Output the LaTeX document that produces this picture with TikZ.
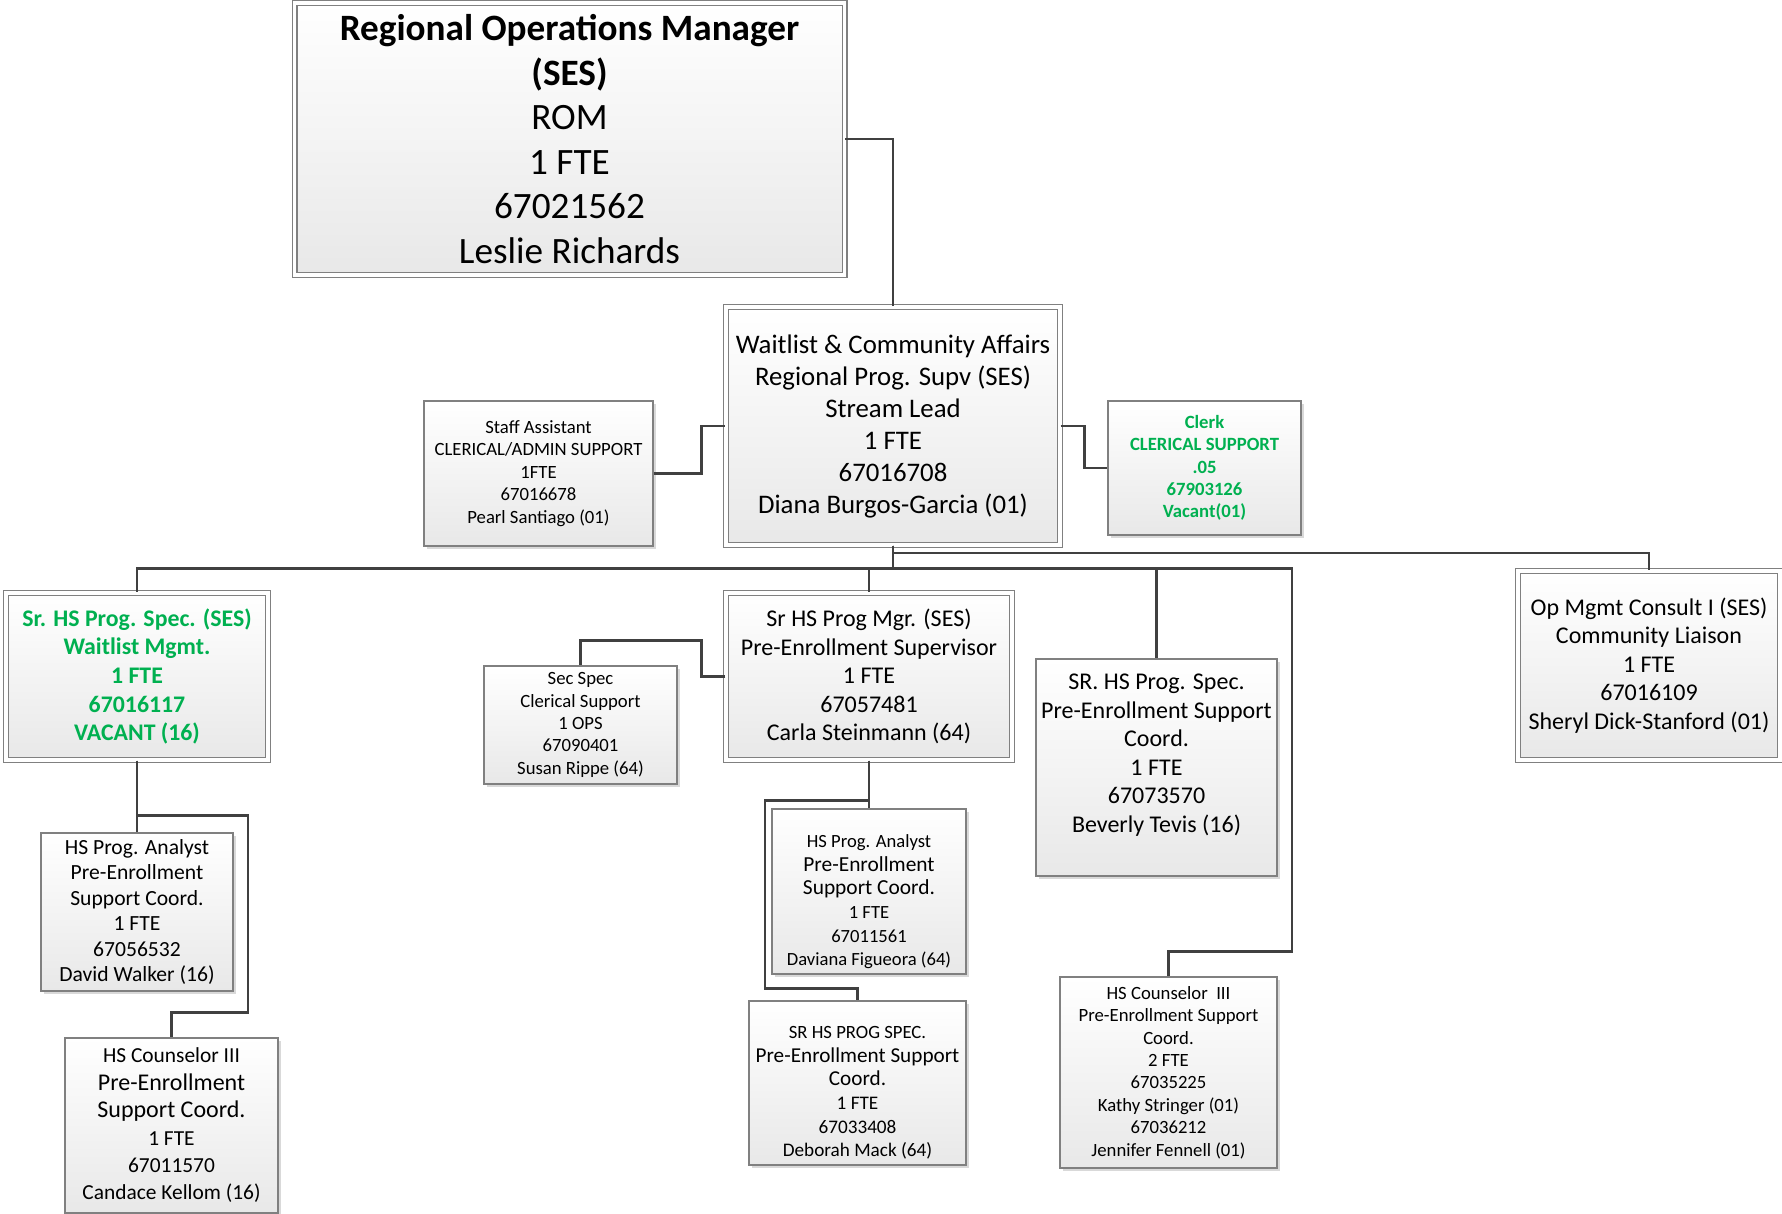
\documentclass[tikz,border=0pt]{standalone}
\usepackage{fontspec}
\setmainfont{Carlito}
\usetikzlibrary{shadows}
\definecolor{grn}{RGB}{0,176,80}
\definecolor{lnc}{RGB}{64,64,64}
\definecolor{brd}{RGB}{128,128,128}
\newcommand{\fsz}[1]{\fontsize{#1}{#1}\selectfont}
\tikzset{%
    box/.style={rectangle, draw=brd, line width=0.6pt, top color=white, bottom color=black!9, align=center, inner sep=2pt,
        general shadow={fill=black!15, shadow xshift=1.6pt, shadow yshift=-1.6pt}},
    dbox/.style={box, double=white, double distance=1.8pt},
    lnk/.style={draw=lnc, line width=1.15pt},
    fsm/.style={font=\fontsize{9.35}{11.2}\selectfont},
    fmd/.style={font=\fontsize{12}{14.3}\selectfont},
}

\begin{document}
\begin{tikzpicture}[x=0.5pt, y=-0.5pt]
    \useasboundingbox (0,0) rectangle (1782,1214);
    % top rows
    \node[dbox, minimum width=275pt, minimum height=136pt, font=\fontsize{18.6}{22.3}\selectfont] (rom) at (569.5,139)
        {\textbf{Regional Operations Manager}\\\textbf{(SES)}\\ROM\\1 FTE\\67021562\\Leslie Richards};
    \node[dbox, minimum width=167pt, minimum height=119pt, font=\fontsize{13.4}{16}\selectfont] (wca) at (893,426)
        {Waitlist \& Community Affairs\\Regional Prog. Supv (SES)\\Stream Lead\\1 FTE\\67016708\\Diana Burgos-Garcia (01)};
    \node[box, fsm, minimum width=114.5pt, minimum height=72.5pt] (staff) at (538.5,473.5)
        {Staff Assistant\\CLERICAL/ADMIN SUPPORT\\1FTE\\67016678\\Pearl Santiago (01)};
    \node[box, text=grn, minimum width=96.5pt, minimum height=67pt, font=\fontsize{9.35}{11.2}\selectfont\bfseries] (clerk) at (1204.5,468)
        {Clerk\\CLERICAL SUPPORT\\.05\\67903126\\Vacant(01)};
    % second row
    \node[dbox, text=grn, minimum width=131pt, minimum height=83.5pt, font=\fontsize{11.9}{14.3}\selectfont\bfseries] (spec) at (137,676.5)
        {Sr. HS Prog. Spec. (SES)\\Waitlist Mgmt.\\1 FTE\\67016117\\VACANT (16)};
    \node[dbox, fmd, minimum width=143pt, minimum height=83.5pt] (mgr) at (869,676.5)
        {Sr HS Prog Mgr. (SES)\\Pre-Enrollment Supervisor\\1 FTE\\67057481\\Carla Steinmann (64)};
    \node[box, fsm, minimum width=96.5pt, minimum height=59pt] (sec) at (580.5,725)
        {Sec Spec\\Clerical Support\\1 OPS\\67090401\\Susan Rippe (64)};
    \node[box, fmd, minimum width=120.5pt, minimum height=108.5pt] (bev) at (1156.5,767.5)
        {SR. HS Prog. Spec.\\Pre-Enrollment Support\\Coord.\\1 FTE\\67073570\\Beverly Tevis (16)\\ \mbox{}};
    \node[dbox, fmd, minimum width=131pt, minimum height=94.5pt] (op) at (1649,665.5)
        {Op Mgmt Consult I (SES)\\Community Liaison\\1 FTE\\67016109\\Sheryl Dick-Stanford (01)};
    % lower boxes
    \node[box, minimum width=96pt, minimum height=79pt, font=\fontsize{10.8}{12.7}\selectfont] (anl) at (137,912)
        {HS Prog. Analyst\\Pre-Enrollment\\Support Coord.\\1 FTE\\67056532\\David Walker (16)};
    \node[box, minimum width=106.5pt, minimum height=87.5pt, font=\fontsize{10.7}{13.7}\selectfont] (cnl) at (171.5,1125.5)
        {HS Counselor III\\\fsz{12}Pre-Enrollment\\\fsz{12}Support Coord.\\1 FTE\\67011570\\Candace Kellom (16)};
    \node[box, minimum width=97pt, minimum height=82.5pt, font=\fontsize{9.3}{11.8}\selectfont] (anm) at (869,891.5)
        {\rule{0pt}{16.7pt}HS Prog. Analyst\\\fsz{10.7}Pre-Enrollment\\\fsz{10.7}Support Coord.\\1 FTE\\67011561\\Daviana Figueora (64)};
    \node[box, minimum width=108.5pt, minimum height=82pt, font=\fontsize{9.6}{11.8}\selectfont] (sspec) at (857.5,1083)
        {\fsz{9.35}\rule{0pt}{16.1pt}SR HS PROG SPEC.\\\fsz{10.6}Pre-Enrollment Support\\\fsz{10.6}Coord.\\1 FTE\\67033408\\Deborah Mack (64)};
    \node[box, fsm, minimum width=108.5pt, minimum height=95.5pt] (coun) at (1168.5,1072.5)
        {HS Counselor\ \ III\\Pre-Enrollment Support\\Coord.\\2 FTE\\67035225\\Kathy Stringer (01)\\67036212\\Jennifer Fennell (01)};
    % connectors
    \draw[lnk] (rom.east) -| (wca.north);
    \draw[lnk] (staff.east) -- ++(48,0) |- (wca.west);
    \draw[lnk] (wca.east) -- ++(24,0) |- (clerk.west);
    \draw[lnk] (wca.south) -- ++(0,7.5) -| (op.north);
    \draw[lnk] (wca.south) -- ++(0,23) -| (spec.north);
    \draw[lnk] (wca.south) -- ++(0,23) -| (mgr.north);
    \draw[lnk] (wca.south) -- ++(0,23) -| (bev.north);
    \draw[lnk] (wca.south) -- ++(0,23) -| ++(399,383) -| (coun.north);
    \draw[lnk] (mgr.west) -- ++(-24,0) -- ++(0,-36) -| (sec.north);
    \draw[lnk] (spec.south) -- (anl.north);
    \draw[lnk] (spec.south) -- ++(0,55) -| ++(111,197) -| (cnl.north);
    \draw[lnk] (mgr.south) -- (anm.north);
    \draw[lnk] (mgr.south) -- ++(0,40) -| ++(-104,188) -| (sspec.north);
\end{tikzpicture}
\end{document}
